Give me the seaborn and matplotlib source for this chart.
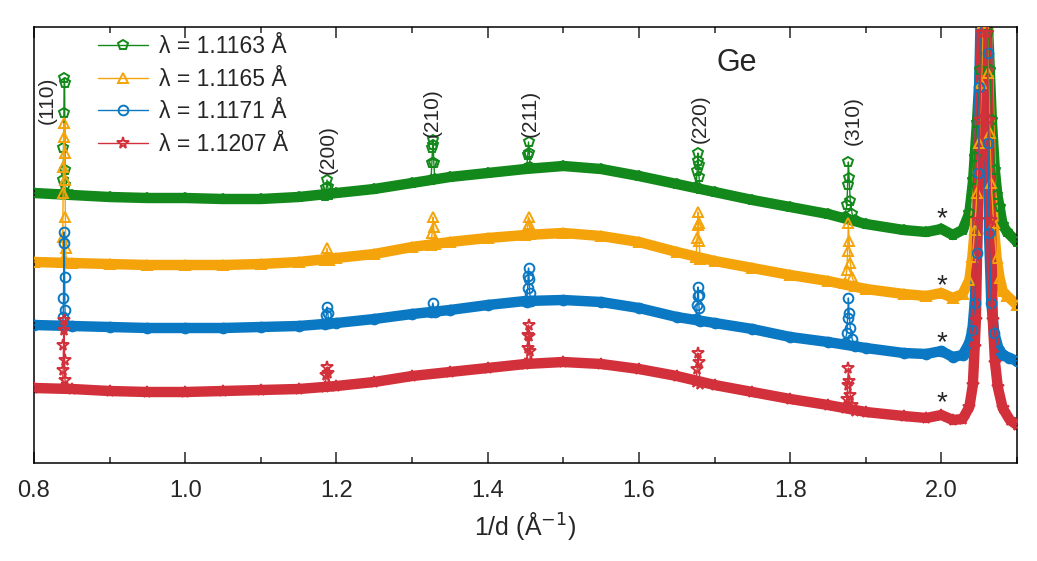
import numpy as np
import pandas as pd
import matplotlib
matplotlib.use("Agg")
import matplotlib.pyplot as plt
import seaborn as sns

# ---------------- data (intensity in arbitrary units, offsets included) ----------------
labels = ["λ = 1.1163 Å", "λ = 1.1165 Å", "λ = 1.1171 Å", "λ = 1.1207 Å"]
colors = ["#12891a", "#f5a30a", "#0a78c2", "#d2303a"]
markers = ["p", "^", "o", "*"]

# broad background (amorphous hump)
prof_x = [0.80, 0.85, 0.90, 0.95, 1.00, 1.05, 1.10, 1.15, 1.20, 1.25, 1.30, 1.35, 1.40,
          1.45, 1.50, 1.55, 1.60, 1.65, 1.70, 1.75, 1.80, 1.85, 1.90, 1.95, 1.98, 2.00,
          2.015, 2.028]
green_prof = [270, 268, 266, 265, 265, 264, 264, 266, 270, 274, 280, 286, 290, 294, 297,
              294, 287, 279, 271, 263, 256, 249, 239, 233, 231, 234, 228, 233]
orange_prof = [201, 200, 199, 198, 198, 198, 199, 201, 205, 209, 216, 221, 225, 228, 230,
               227, 221, 211, 202, 195, 188, 182, 174, 169, 167, 170, 165, 169]
blue_prof = [138, 137, 136, 135, 135, 135, 136, 137, 140, 144, 149, 153, 158, 162, 163,
             161, 155, 146, 140, 134, 126, 121, 115, 110, 109, 112, 106, 108]
red_prof = [75, 74, 72, 71, 71, 72, 73, 74, 77, 81, 87, 91, 95, 99, 101, 99, 94, 87, 78,
            71, 64, 58, 51, 47, 45, 48, 43, 44]

# strong reflection near 2.057
green_big_x = [2.037, 2.042, 2.044, 2.047, 2.051, 2.054, 2.057, 2.060, 2.062, 2.064,
               2.0667, 2.0707, 2.074, 2.077, 2.081, 2.087, 2.10]
green_big_y = [250, 283, 306, 340, 393, 440, 520, 470, 430, 393, 343, 293, 268, 256, 238,
               231, 221]
orange_big_x = [2.037, 2.041, 2.044, 2.047, 2.050, 2.053, 2.055, 2.057, 2.060, 2.062,
                2.064, 2.066, 2.069, 2.073, 2.077, 2.081, 2.087, 2.10]
orange_big_y = [183, 206, 233, 270, 320, 380, 440, 520, 450, 390, 330, 280, 240, 205, 185,
                172, 167, 158]
blue_big_x = [2.037, 2.041, 2.044, 2.047, 2.049, 2.050, 2.052, 2.055, 2.058, 2.061, 2.062,
              2.063, 2.066, 2.070, 2.076, 2.082, 2.090, 2.10]
blue_big_y = [120, 133, 160, 210, 290, 376, 450, 520, 480, 410, 320, 230, 160, 130, 113,
              108, 105, 102]
red_big_x = [2.037, 2.0416, 2.044, 2.0456, 2.048, 2.0508, 2.0534, 2.057, 2.060, 2.0627,
             2.0654, 2.068, 2.071, 2.0746, 2.081, 2.0905, 2.10]
red_big_y = [56, 78, 116, 143, 243, 343, 430, 560, 430, 343, 243, 143, 100, 76, 55, 43, 38]

# sharp reflections (110), (200), (210), (211), (220), (310)
green_pk_x = [0.8375, 0.8385, 0.839, 0.8395, 0.840, 0.8405, 0.841, 0.8415, 0.8425,
              1.185, 1.1865, 1.1875, 1.1885, 1.190,
              1.325, 1.3262, 1.327, 1.3275, 1.328, 1.3288, 1.330,
              1.4515, 1.453, 1.454, 1.455, 1.4565,
              1.6755, 1.677, 1.6775, 1.678, 1.6788, 1.6795, 1.681,
              1.872, 1.875, 1.876, 1.877, 1.878, 1.8795, 1.882, 1.886]
green_pk_y = [269, 283, 315, 350, 385, 380, 293, 278, 270,
              267, 275, 283, 276, 268,
              283, 300, 315, 323, 318, 300, 284,
              295, 308, 321, 310, 296,
              276, 292, 302, 310, 298, 286, 274,
              246, 258, 278, 301, 285, 262, 249, 243]
orange_pk_x = [0.8375, 0.838, 0.8385, 0.839, 0.8395, 0.840, 0.8405, 0.841, 0.8415, 0.842,
               0.8425,
               1.185, 1.1875, 1.190,
               1.325, 1.3265, 1.3275, 1.3285, 1.330,
               1.4515, 1.453, 1.454, 1.455, 1.4565,
               1.6755, 1.677, 1.6775, 1.678, 1.6788, 1.6795, 1.681,
               1.872, 1.875, 1.876, 1.877, 1.878, 1.8795, 1.882, 1.886]
orange_pk_y = [201, 226, 270, 296, 326, 340, 310, 283, 246, 215, 201,
               203, 215, 203,
               218, 230, 246, 236, 219,
               229, 237, 246, 239, 229,
               206, 225, 238, 251, 240, 222, 204,
               180, 193, 212, 240, 222, 200, 186, 177]
blue_pk_x = [0.8375, 0.8385, 0.839, 0.8395, 0.840, 0.8405, 0.841, 0.842,
             1.185, 1.1865, 1.1875, 1.1885, 1.190,
             1.325, 1.3275, 1.330,
             1.4515, 1.4528, 1.4535, 1.454, 1.4548, 1.4555, 1.457,
             1.6755, 1.677, 1.6775, 1.678, 1.6788, 1.6795, 1.681,
             1.872, 1.875, 1.876, 1.877, 1.878, 1.8795, 1.882, 1.886]
blue_pk_y = [138, 146, 165, 220, 231, 186, 153, 138,
             139, 148, 156, 150, 140,
             151, 160, 151,
             161, 175, 187, 195, 184, 170, 162,
             144, 158, 167, 176, 168, 155, 142,
             120, 130, 145, 165, 150, 135, 124, 117]
red_pk_x = [0.8375, 0.8385, 0.839, 0.8395, 0.840, 0.8405, 0.841, 0.8425,
            1.185, 1.1865, 1.1875, 1.1885, 1.190,
            1.4515, 1.4528, 1.4535, 1.454, 1.4548, 1.4555, 1.457,
            1.6755, 1.677, 1.678, 1.6788, 1.681,
            1.872, 1.875, 1.876, 1.877, 1.878, 1.8795, 1.882, 1.886]
red_pk_y = [75, 93, 118, 143, 133, 103, 83, 75,
            76, 88, 96, 90, 77,
            100, 115, 128, 138, 127, 112, 101,
            81, 94, 110, 101, 79,
            55, 64, 78, 95, 82, 68, 58, 52]

peak_labels = ["(110)", "(200)", "(210)", "(211)", "(220)", "(310)"]
peak_label_x = [0.8172, 1.1887, 1.3262, 1.4558, 1.6806, 1.8830]
peak_label_y = [363, 313, 350, 350, 344, 342]
star_x = 2.0006
star_y = [250, 183, 126, 66]

x_ticks = [0.8, 1.0, 1.2, 1.4, 1.6, 1.8, 2.0]

# ---------------- build frames ----------------
profiles = [green_prof, orange_prof, blue_prof, red_prof]
bigs = [(green_big_x, green_big_y), (orange_big_x, orange_big_y),
        (blue_big_x, blue_big_y), (red_big_x, red_big_y)]
pks = [(green_pk_x, green_pk_y), (orange_pk_x, orange_pk_y),
       (blue_pk_x, blue_pk_y), (red_pk_x, red_pk_y)]

sns.set_theme(style="ticks")
plt.rcParams["font.family"] = ["Liberation Sans", "DejaVu Sans"]
plt.rcParams["axes.linewidth"] = 1.1

fig = plt.figure(figsize=(10.37, 5.61), dpi=100)
ax = fig.add_axes([34 / 1037, 1 - 463 / 561, (1017 - 34) / 1037, (463 - 27) / 561])

for i in range(4):
    bx, by = bigs[i]
    band = pd.DataFrame({"x": prof_x + bx, "y": profiles[i] + by})
    sns.lineplot(data=band, x="x", y="y", ax=ax, color=colors[i], lw=7.5,
                 sort=False, estimator=None, legend=False,
                 solid_joinstyle="round", solid_capstyle="round",
                 zorder=2 + i * 0.1)
    full = pd.DataFrame({"x": prof_x + bx + pks[i][0],
                         "y": profiles[i] + by + pks[i][1]})
    full = full.sort_values("x", kind="stable").reset_index(drop=True)
    sns.lineplot(data=full, x="x", y="y", ax=ax, color=colors[i], lw=1.0,
                 sort=False, estimator=None, label=labels[i],
                 marker=markers[i], markersize=7 if markers[i] != "*" else 8.5,
                 markerfacecolor="none", markeredgecolor=colors[i],
                 markeredgewidth=1.4, zorder=3 + i * 0.1)

ax.set_xlim(0.8, 2.1)
ax.set_ylim(0, 436)
ax.set_xticks(x_ticks)
ax.set_xticklabels([f"{v:.1f}" for v in x_ticks])
ax.set_xticks(np.arange(0.9, 2.1, 0.2), minor=True)
ax.set_yticks([])
ax.tick_params(axis="x", which="major", direction="in", length=8, width=1.1,
               top=True, labelsize=17, pad=12)
ax.tick_params(axis="x", which="minor", direction="in", length=4.5, width=1.1, top=True)
ax.set_xlabel("1/d (Å$^{-1}$)", fontsize=18, labelpad=6)
ax.set_ylabel("")
for s in ax.spines.values():
    s.set_visible(True)
    s.set_linewidth(1.1)
    s.set_color("black")

for t, xx, yy in zip(peak_labels, peak_label_x, peak_label_y):
    ax.text(xx, yy, t, rotation=90, ha="center", va="center", fontsize=15)
for yy in star_y:
    ax.text(star_x, yy - 6, "*", ha="center", va="center", fontsize=20)
ax.text(1.73, 400, "Ge", ha="center", va="center", fontsize=22)

leg = ax.legend(loc="upper left", bbox_to_anchor=(98 / 1037, 1 - 35 / 561),
                bbox_transform=fig.transFigure, frameon=False, fontsize=16.5,
                borderaxespad=0, borderpad=0, handlelength=2.2, handletextpad=0.45,
                labelspacing=0.42, numpoints=1)

fig.savefig("out.png", dpi=100)
